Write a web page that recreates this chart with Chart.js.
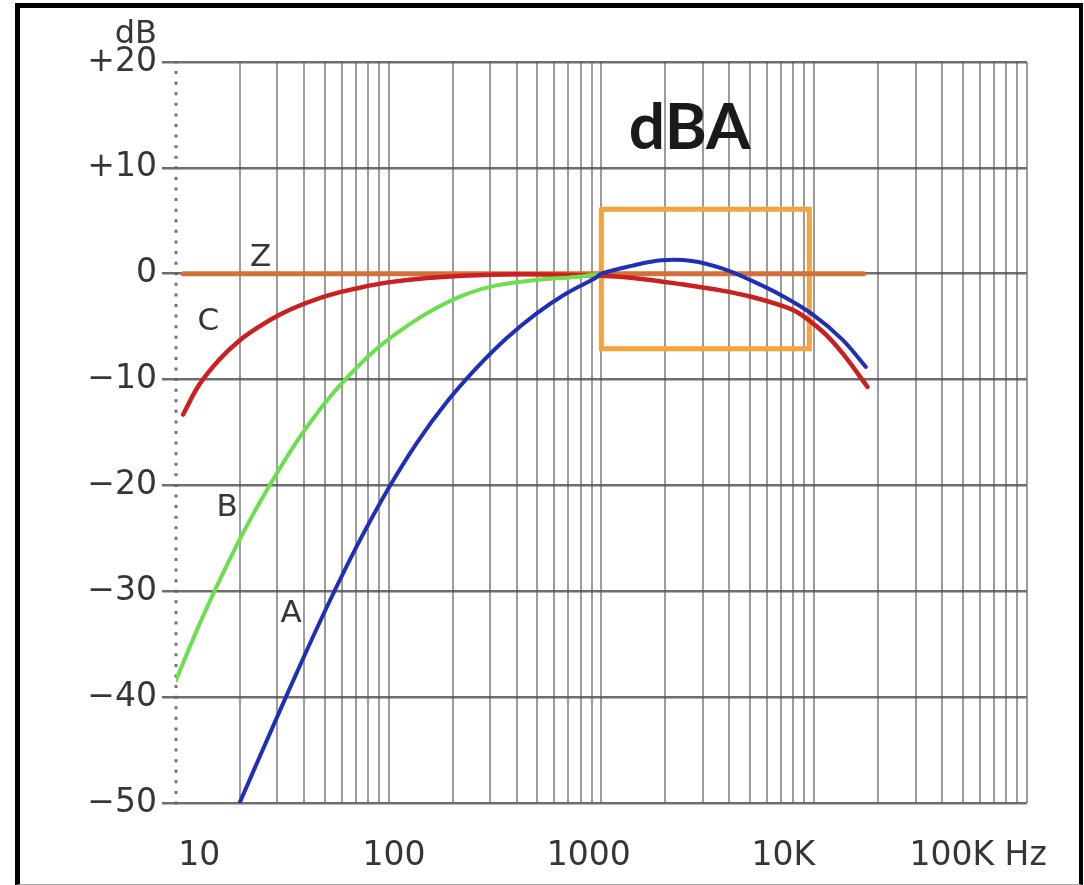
<!DOCTYPE html>
<html>
<head>
<meta charset="utf-8">
<script src="https://cdn.jsdelivr.net/npm/chart.js@4/dist/chart.umd.min.js"></script>
<style>
    body { margin: 0; background: #fff; }
    #wrap { position: relative; width: 1084px; height: 885px; overflow: hidden; }
    #frame {
        position: absolute; left: 15px; top: 3px; width: 1068px; height: 882px;
        box-sizing: border-box; pointer-events: none;
        border-left: 5px solid #000; border-top: 5px solid #000;
        border-right: 4px solid #000; border-bottom: 1px solid #aaa;
    }
</style>
</head>
<body>
<div id="wrap">
    <canvas id="weighting" width="1084" height="885"></canvas>
    <div id="frame"></div>
</div>
<script>
'use strict'

// frequency grid (Hz) and axis labels
var xGridHz = [10, 20, 30, 40, 50, 60, 70, 80, 90,
    100, 200, 300, 400, 500, 600, 700, 800, 900,
    1000, 2000, 3000, 4000, 5000, 6000, 7000, 8000, 9000,
    10000, 20000, 30000, 40000, 50000, 60000, 70000, 80000, 90000, 100000];
var xTickLabels = ['10', '100', '1000', '10K', '100K Hz'];
var yTickValues = [20, 10, 0, -10, -20, -30, -40, -50];
var yTickLabels = ['+20', '+10', '0', '\u221210', '\u221220', '\u221230', '\u221240', '\u221250'];

// weighting curves (Hz, dB)
var curveZHz = [10.8, 17100];
var curveZDb = [0, 0];

var curveCHz = [10.8, 12.9, 16, 19.9, 24.6, 30.5, 37.7, 52, 72, 99, 152, 259, 443,
    1000, 1545, 2390, 3690, 5115, 7100, 8260, 9520, 11430, 13660, 17840];
var curveCDb = [-13.3, -10.45, -8.1, -6.3, -5.0, -3.9, -3.05, -2.05, -1.35, -0.82, -0.4, -0.14, -0.05,
    -0.2, -0.49, -1.0, -1.6, -2.2, -3.04, -3.6, -4.45, -5.8, -7.55, -10.7];

var curveBHz = [10, 12.9, 16.9, 22.1, 28.9, 37.7, 49.3, 64.5, 88.9, 122.6, 169, 233, 321, 493, 757, 1000];
var curveBDb = [-38.4, -33.1, -28.0, -23.4, -19.3, -15.6, -12.4, -9.7, -7.0, -4.9, -3.2, -1.9, -1.1, -0.6, -0.3, 0];

var curveAHz = [19.9, 27.4, 37.7, 52, 71.8, 98.9, 136.4, 188, 259, 358, 493, 680, 938, 1000,
    1384, 1923, 2665, 3690, 5115, 7100, 9840, 13550, 17500];
var curveADb = [-50, -43.6, -37.3, -31.2, -25.5, -20.4, -15.9, -12.1, -8.9, -6.1, -3.8, -1.9, -0.4, 0,
    0.74, 1.27, 1.21, 0.5, -0.68, -2.1, -3.84, -6.2, -8.8];

// highlighted region
var boxHz = [1000, 9500, 9500, 1000, 1000];
var boxDb = [6.1, 6.1, -7.1, -7.1, 6.1];

var curveLabelText = ['Z', 'C', 'B', 'A'];
var curveLabelHz = [25, 14.2, 17.4, 34.8];
var curveLabelDb = [1.5, -4.6, -22.1, -32.1];

function toPoints(xs, ys) {
    var pts = [];
    for (let i = 0; i < xs.length; i++) {
        pts.push({ x: xs[i], y: ys[i] });
    }
    return pts;
}

var textColor = '#363636';
var gridV = 'rgba(95, 95, 95, 0.62)';
var gridH = 'rgba(85, 85, 85, 0.85)';

// dotted left axis, one dot per dB
var dottedAxisPlugin = {
    id: 'dottedAxis',
    beforeDatasetsDraw: function (chart) {
        var ctx = chart.ctx;
        var sy = chart.scales.y;
        var x = chart.scales.x.getPixelForValue(10);
        var step = Math.abs(sy.getPixelForValue(0) - sy.getPixelForValue(1));
        ctx.save();
        ctx.strokeStyle = 'rgba(100, 100, 100, 0.9)';
        ctx.lineWidth = 3;
        ctx.setLineDash([3, step - 3]);
        ctx.beginPath();
        ctx.moveTo(x, sy.getPixelForValue(-50) + 1.5);
        ctx.lineTo(x, sy.getPixelForValue(20));
        ctx.stroke();
        ctx.restore();
    }
};

var labelPlugin = {
    id: 'curveLabels',
    afterDatasetsDraw: function (chart) {
        var ctx = chart.ctx;
        var sx = chart.scales.x;
        var sy = chart.scales.y;
        ctx.save();
        ctx.fillStyle = textColor;
        ctx.textAlign = 'center';
        ctx.textBaseline = 'middle';
        ctx.font = '31px "DejaVu Sans"';
        for (let i = 0; i < curveLabelText.length; i++) {
            ctx.fillText(curveLabelText[i], sx.getPixelForValue(curveLabelHz[i]), sy.getPixelForValue(curveLabelDb[i]));
        }
        // unit over the y axis
        ctx.textAlign = 'right';
        ctx.font = '32px "DejaVu Sans"';
        ctx.fillText('dB', sy.right - 19, sy.getPixelForValue(22.6));
        // heading
        ctx.fillStyle = '#1a1a1a';
        ctx.textAlign = 'center';
        ctx.font = 'bold 64px Lato';
        ctx.fillText('dBA', sx.getPixelForValue(2600), sy.getPixelForValue(13.7));
        ctx.restore();
    }
};

var chartConfig = {
    type: 'scatter',
    data: {
        datasets: [{
            label: 'A',
            data: toPoints(curveAHz, curveADb),
            borderColor: '#1f2fb8',
            borderWidth: 4,
        }, {
            label: 'B',
            data: toPoints(curveBHz, curveBDb),
            borderColor: '#6ae04c',
            borderWidth: 4,
        }, {
            label: 'C',
            data: toPoints(curveCHz, curveCDb),
            borderColor: '#cc1f1f',
            borderWidth: 4.5,
        }, {
            label: 'Z',
            data: toPoints(curveZHz, curveZDb),
            borderColor: '#d4703a',
            borderWidth: 5,
        }, {
            label: 'box',
            data: toPoints(boxHz, boxDb),
            borderColor: '#f4a340',
            borderWidth: 5,
            tension: 0,
        }]
    },
    options: {
        responsive: false,
        animation: false,
        showLine: true,
        elements: {
            point: { radius: 0 },
            line: { fill: false, tension: 0.4, borderCapStyle: 'round' }
        },
        layout: {
            padding: { left: 0, top: 62, right: 51, bottom: 0 }
        },
        plugins: {
            legend: { display: false },
            tooltip: { enabled: false },
            title: { display: false }
        },
        scales: {
            x: {
                type: 'logarithmic',
                position: 'bottom',
                min: 10,
                max: 100000,
                afterBuildTicks: function (axis) {
                    axis.ticks = xGridHz.map(function (v) { return { value: v }; });
                },
                afterFit: function (axis) {
                    axis.height = 0;
                },
                ticks: { display: false, autoSkip: false },
                border: { display: false },
                grid: {
                    drawTicks: false,
                    lineWidth: 2,
                    color: function (c) {
                        return c.tick && c.tick.value === 10 ? 'rgba(0,0,0,0)' : gridV;
                    }
                }
            },
            xl: {
                type: 'linear',
                position: 'bottom',
                min: -0.12,
                max: 4.25,
                afterBuildTicks: function (axis) {
                    axis.ticks = xTickLabels.map(function (t, i) { return { value: i }; });
                },
                afterFit: function (axis) {
                    axis.height = 82;
                },
                border: { display: false },
                grid: { display: false, drawTicks: false },
                ticks: {
                    autoSkip: false,
                    maxRotation: 0,
                    padding: 34,
                    color: textColor,
                    font: { family: '"DejaVu Sans"', size: 33 },
                    callback: function (v, i) { return xTickLabels[i]; }
                }
            },
            y: {
                type: 'linear',
                min: -50,
                max: 20,
                afterBuildTicks: function (axis) {
                    axis.ticks = yTickValues.map(function (v) { return { value: v }; });
                },
                afterFit: function (axis) {
                    axis.width = 176;
                },
                border: { display: false },
                grid: {
                    color: gridH,
                    lineWidth: 2.5,
                    tickLength: 14,
                    tickColor: gridH
                },
                ticks: {
                    padding: 5,
                    color: textColor,
                    font: { family: '"DejaVu Sans"', size: 33 },
                    callback: function (v) { return yTickLabels[yTickValues.indexOf(v)]; }
                }
            }
        }
    },
    plugins: [dottedAxisPlugin, labelPlugin]
};

var weightingChart = new Chart(document.getElementById('weighting'), chartConfig);
</script>
</body>
</html>
